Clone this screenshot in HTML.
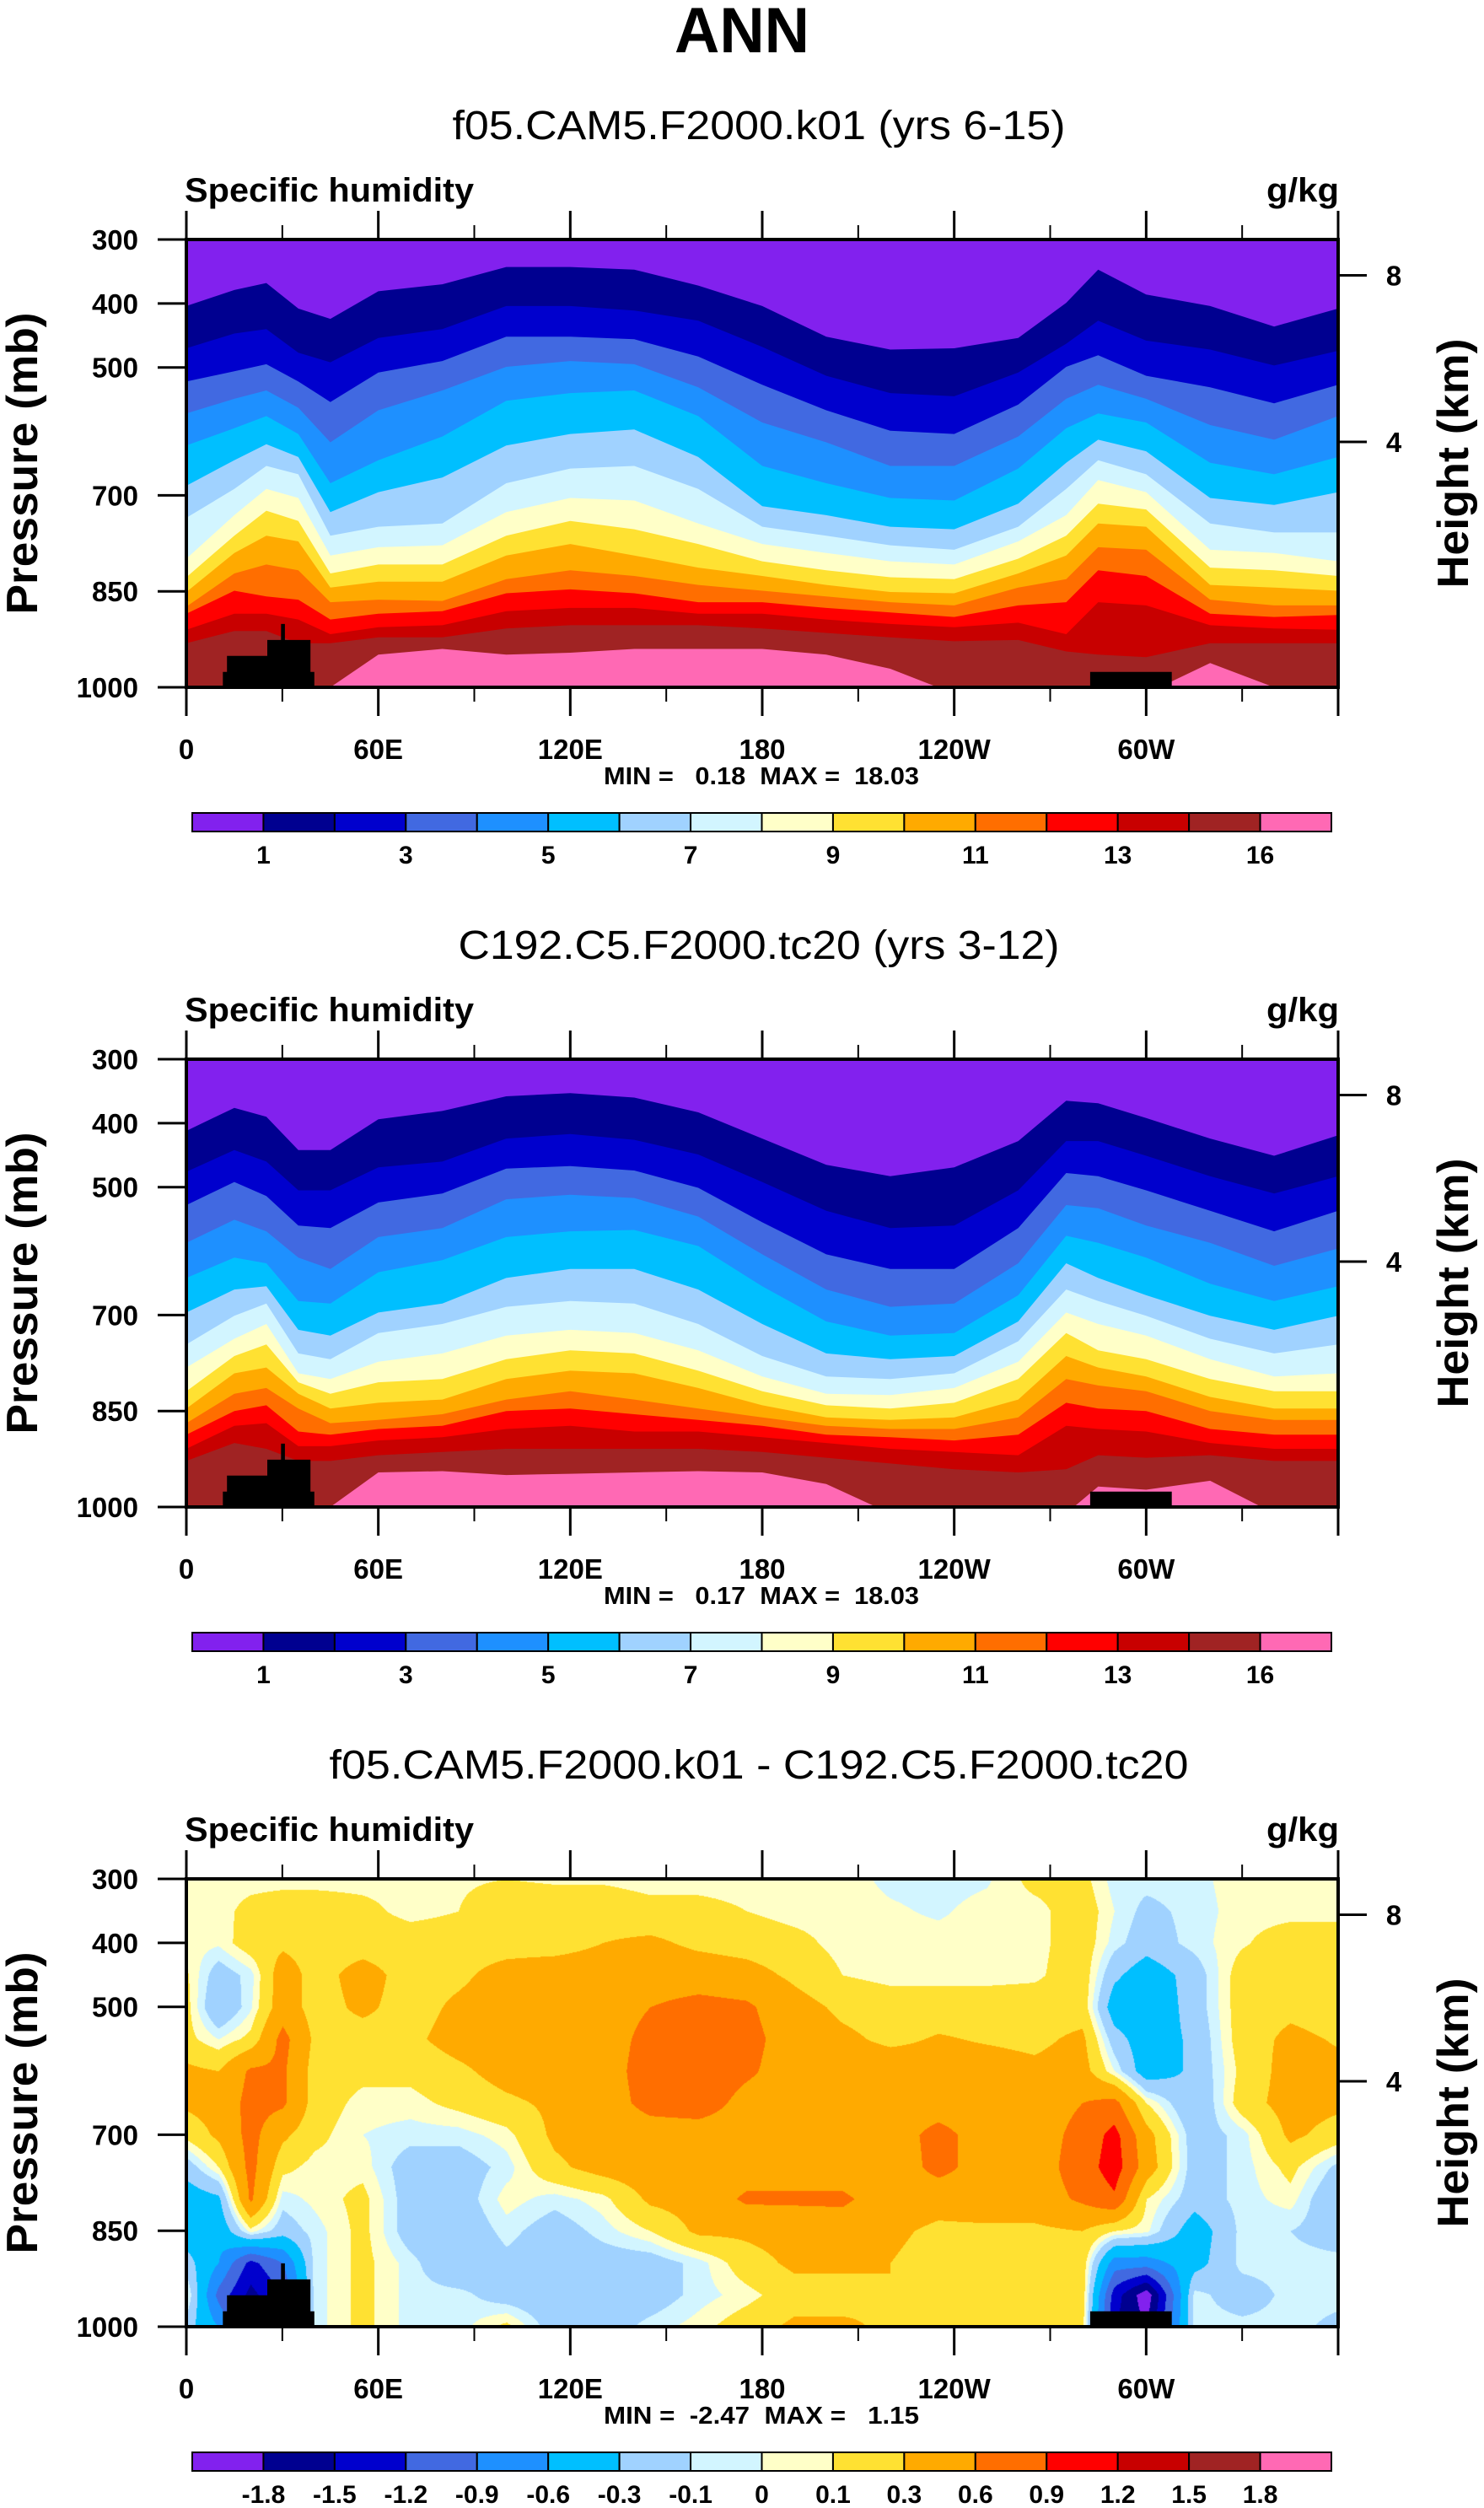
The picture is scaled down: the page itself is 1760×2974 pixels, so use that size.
<!DOCTYPE html>
<html><head><meta charset="utf-8">
<style>
html,body{margin:0;padding:0;background:#fff;}
body{width:1760px;height:2974px;position:relative;overflow:hidden;font-family:"Liberation Sans",Arial,sans-serif;}
#c3{position:absolute;left:221px;top:2228px;}
#main{position:absolute;left:0;top:0;}
text{white-space:pre;}
</style></head>
<body>
<canvas id="c3" width="1366" height="531"></canvas>
<svg id="main" width="1760" height="2974" xmlns="http://www.w3.org/2000/svg"></svg>
<script>
// ---------- data ----------
const lonNodes = [0,15,25,35,45,60,80,100,120,140,160,180,200,220,240,260,275,285,300,320,340,360];
const p1b1  = [404,379,368,408,424,381,370,343,343,347,372,404,452,472,470,454,399,347,386,404,436,408];
const p1b2  = [470,447,440,477,492,454,440,404,404,411,427,468,513,540,545,508,463,427,458,472,497,474];
const p1b3  = [522,506,495,522,554,508,490,452,452,456,483,527,567,599,604,558,499,481,513,531,556,527];
const p1b4  = [572,549,536,563,617,567,536,499,490,495,531,586,617,654,654,608,549,527,549,590,613,576];
const p1b5  = [622,595,576,604,681,645,608,552,540,536,576,654,681,704,708,658,595,572,586,649,667,640];
const p1b6  = [685,645,620,640,726,695,672,622,604,597,640,717,731,749,753,713,649,613,631,704,715,695];
const p1b7  = [735,690,654,667,763,749,744,681,658,654,690,749,763,778,785,749,690,645,667,744,758,758];
const p1b8  = [799,731,690,704,794,781,778,726,704,708,744,776,790,803,808,772,731,676,695,785,790,803];
const p1b9  = [828,763,724,740,822,808,808,763,740,753,776,803,817,828,831,799,763,713,722,813,817,826];
const p1b10 = [851,790,763,772,844,835,835,794,776,794,813,826,840,851,853,822,794,744,749,840,844,849];
const p1b11 = [874,822,808,817,867,863,865,831,817,826,840,849,858,867,872,844,831,781,785,863,872,872];
const p1b12 = [885,849,858,863,894,885,881,853,847,853,867,867,876,883,890,872,867,817,826,885,890,887];
const p1b13 = [910,885,885,894,917,906,903,881,876,876,885,885,894,901,906,899,917,867,872,903,908,910];
const p1b14 = [931,912,912,931,931,922,922,908,903,903,903,908,915,922,928,926,944,949,953,931,931,931];
const p1b15 = [1010,1010,1010,1010,1000,949,940,949,946,940,940,940,949,971,1010,1010,1010,1010,1010,962,1000,1010];
const p2b1  = [412,376,390,442,442,394,381,358,353,360,383,424,465,483,469,428,365,369,392,424,451,419];
const p2b2  = [476,442,460,505,505,469,460,424,417,426,449,492,537,564,560,505,428,428,451,483,510,483];
const p2b3  = [528,492,514,560,564,524,510,471,467,474,501,555,605,628,628,564,478,483,505,537,569,537];
const p2b4  = [587,551,569,610,628,578,564,519,512,517,546,605,660,687,682,619,528,533,560,587,623,596];
const p2b5  = [642,610,619,678,682,633,614,578,569,567,592,655,710,732,728,669,576,587,610,651,678,655];
const p2b6  = [696,660,655,723,732,696,682,642,628,628,660,714,760,769,764,710,619,642,669,701,723,701];
const p2b7  = [746,701,682,760,769,728,714,687,678,682,714,764,796,800,791,741,660,678,701,737,760,746];
const p2b8  = [782,737,714,791,800,773,760,732,723,728,755,796,823,825,814,773,696,714,732,769,796,791];
const p2b9  = [819,764,746,805,823,805,800,769,755,760,787,819,841,846,837,800,728,755,769,800,819,819];
const p2b10 = [846,791,782,823,846,837,832,800,787,791,814,841,860,864,860,832,764,782,796,828,846,846];
const p2b11 = [869,823,814,846,869,864,855,832,819,832,846,860,873,878,878,860,800,810,819,850,864,864];
const p2b12 = [887,850,841,882,887,878,873,850,846,855,864,873,887,891,896,887,837,846,850,878,887,887];
const p2b13 = [909,873,869,905,905,896,891,878,873,882,882,891,900,909,914,919,873,878,882,900,909,909];
const p2b14 = [928,900,909,928,928,919,914,909,909,909,909,914,923,932,941,946,941,919,923,919,928,928];
const p2b15 = [1010,1010,1010,1010,1000,946,944,950,948,946,944,946,964,1010,1010,1010,1010,968,973,959,1010,1010];
const topoLeft  = [[11.4,1000],[11.4,976],[12.7,976],[12.7,951],[25.3,951],[25.3,926],[29.6,926],[29.6,901],[30.8,901],[30.8,926],[38.8,926],[38.8,976],[40,976],[40,1000]];
const topoRight = [[282.5,1000],[282.5,976],[308,976],[308,1000]];
const gridLon = [0,10,20,30,40,55,70,85,100,115,130,145,160,175,190,205,220,235,250,265,280,290,300,315,330,345,360];
const gridP = [300,350,400,450,500,550,600,650,700,750,800,850,900,950,1000];
const d300 = [.05,.05,.05,.05,.05,.05,.05,.08,.1,.08,.08,.05,.05,.05,.05,.05,-.03,-.05,-.02,.15,.15,-.05,-.05,-.03,.05,.05,.05];
const d350 = [.05,.05,.15,.2,.2,.15,.05,.1,.2,.2,.2,.15,.15,.1,.05,.05,.02,-.02,.05,.05,.2,0,-.15,-.05,.05,.05,.05];
const d400 = [.05,.02,.2,.25,.2,.2,.2,.2,.2,.2,.3,.35,.25,.2,.15,.05,.05,.05,.05,.05,.2,-.05,-.2,-.05,.08,.2,.2];
const d450 = [.12,-.2,-.05,.45,.2,.4,.2,.25,.4,.45,.45,.45,.45,.4,.25,.1,.05,.05,.05,.07,.2,-.25,-.45,-.2,.2,.2,.2];
const d500 = [.15,-.3,-.02,.45,.2,.35,.2,.35,.45,.45,.45,.6,.7,.65,.4,.25,.2,.2,.2,.2,.2,-.45,-.5,-.2,.2,.25,.2];
const d550 = [.15,0,.15,.7,.25,.2,.25,.4,.45,.45,.45,.7,.75,.7,.45,.35,.25,.32,.28,.25,.35,-.2,-.45,-.25,.2,.35,.28];
const d600 = [.35,.3,.65,.65,.2,.15,.15,.25,.4,.45,.45,.75,.8,.65,.45,.45,.45,.4,.4,.35,.4,0,-.45,-.25,.15,.4,.35];
const d650 = [.35,.4,.7,.65,.2,.05,.05,.15,.25,.35,.45,.7,.75,.5,.45,.45,.45,.45,.45,.45,.6,.7,.1,-.3,.2,.4,.35];
const d700 = [.15,.35,.7,.35,.15,0,-.05,-.05,.05,.35,.4,.45,.45,.45,.45,.45,.45,.7,.45,.45,.7,1.0,.4,-.2,-.05,.35,.2];
const d750 = [-.2,.1,.7,.15,.05,.05,-.2,-.2,-.05,.25,.4,.45,.45,.45,.45,.45,.4,.7,.45,.45,.75,1.05,.45,-.2,-.05,.15,-.15];
const d800 = [-.45,-.35,.65,-.05,.03,.15,-.2,-.2,.05,-.05,.05,.35,.4,.65,.65,.65,.45,.4,.45,.45,.65,.85,.1,-.2,-.05,.05,-.3];
const d850 = [-.45,-.5,.05,-.2,-.05,.15,-.2,-.25,-.05,-.2,-.05,.1,.35,.35,.4,.45,.35,.25,.25,.25,.3,.1,.03,-.45,-.05,-.1,-.2];
const d900 = [-.2,-.6,-1.3,-.9,-.05,.15,-.05,-.3,-.15,-.25,-.2,-.2,-.05,.2,.35,.35,.3,.2,.2,.2,.2,-.75,-.75,-.4,-.05,-.05,-.05];
const d950 = [.05,-1.0,-1.6,-1.2,-.05,.15,-.05,-.05,-.2,-.25,-.2,-.2,-.05,.05,.2,.2,.3,.2,.2,.2,.2,-1.35,-2.0,-.05,-.2,-.05,-.05];
const d1000= [-.2,-.6,-1.5,-1.2,-.05,.15,-.05,-.05,.15,-.2,-.2,-.05,.05,.2,.35,.35,.25,.2,.2,.2,.15,-1.5,-1.8,-.05,-.05,-.05,-.15];
const levelsQ = [1,2,3,4,5,6,7,8,9,10,11,12,13,14,16];
const levelsD = [-1.8,-1.5,-1.2,-0.9,-0.6,-0.3,-0.1,0,0.1,0.3,0.6,0.9,1.2,1.5,1.8];
const lonTicks = [0,60,120,180,240,300];
const lonTickLabels = ["0","60E","120E","180","120W","60W"];
const lonMinor = [30,90,150,210,270,330];
const pTicks = [300,400,500,700,850,1000];
const hTicks = [8,4];
const colors = ["#8221EE","#000090","#0000CD","#4169E1","#1E90FF","#00BFFF","#A0D2FF","#D2F5FF","#FFFFC8","#FFE132","#FFAA00","#FF6E00","#FF0000","#C80000","#A02323","#FF69B4"];
const titles = ["f05.CAM5.F2000.k01 (yrs 6-15)","C192.C5.F2000.tc20 (yrs 3-12)","f05.CAM5.F2000.k01 - C192.C5.F2000.tc20"];
const titleW = [727,713,1019];
const minmax = ["MIN =   0.18  MAX =  18.03","MIN =   0.17  MAX =  18.03","MIN =  -2.47  MAX =   1.15"];

// ---------- axes ----------
const PL=221, PW=1366, PH=531;
const tops=[284,1256,2228];
const X = lon => PL + lon/360*PW;
const Y = (p,top) => top + (p-300)/700*PH;
const hToP = h => 1013.25*Math.pow(1-2.25577e-5*h*1000,5.25588);
const NS="http://www.w3.org/2000/svg";
const svg=document.getElementById('main');
function mk(tag,attrs,parent){const e=document.createElementNS(NS,tag);for(const k in attrs)e.setAttribute(k,attrs[k]);(parent||svg).appendChild(e);return e;}
function txt(s,x,y,size,weight,anchor,parent,len){const e=mk('text',{x:x,y:y,'font-size':size,'font-weight':weight,'text-anchor':anchor,'font-family':'"Liberation Sans",Arial,sans-serif',fill:'#000'},parent);e.setAttributeNS('http://www.w3.org/XML/1998/namespace','xml:space','preserve');if(len){e.setAttribute('textLength',len);e.setAttribute('lengthAdjust','spacingAndGlyphs');}e.textContent=s;return e;}

const t0=txt("ANN",880,62,76,'bold','middle',null,160);



const defs=mk('defs',{});
tops.forEach((top,i)=>{
  const cp=mk('clipPath',{id:'clip'+i},defs);
  mk('rect',{x:PL,y:top,width:PW,height:PH},cp);
});

const bounds1=[p1b1,p1b2,p1b3,p1b4,p1b5,p1b6,p1b7,p1b8,p1b9,p1b10,p1b11,p1b12,p1b13,p1b14,p1b15];
const bounds2=[p2b1,p2b2,p2b3,p2b4,p2b5,p2b6,p2b7,p2b8,p2b9,p2b10,p2b11,p2b12,p2b13,p2b14,p2b15];

function drawBands(bounds,top,i){
  const g=mk('g',{'clip-path':'url(#clip'+i+')'});
  
  
  const r=mk('rect',{x:PL,y:top,width:PW,height:PH,fill:colors[0]},g);
  
  
  bounds.forEach((b,k)=>{
    let pts=b.map((p,j)=>X(lonNodes[j]).toFixed(1)+','+Y(p,top).toFixed(1));
    pts.push(X(360)+','+(top+PH+10));pts.push(X(0)+','+(top+PH+10));
    const pg=mk('polygon',{points:pts.join(' '),fill:colors[k+1]},g);
    
    
  });
}
function drawTopo(top,i){
  [topoLeft,topoRight].forEach((t,k)=>{
    const pg=mk('polygon',{points:t.map(q=>X(q[0]).toFixed(1)+','+Y(q[1],top).toFixed(1)).join(' '),fill:'#000'});
    
    
  });
}
drawBands(bounds1,tops[0],0);
drawBands(bounds2,tops[1],1);

const gridRows=[d300,d350,d400,d450,d500,d550,d600,d650,d700,d750,d800,d850,d900,d950,d1000];
(function(){
  const cv=document.getElementById('c3');const ctx=cv.getContext('2d');
  const img=ctx.createImageData(PW,PH);
  const rgb=colors.map(c=>[parseInt(c.slice(1,3),16),parseInt(c.slice(3,5),16),parseInt(c.slice(5,7),16)]);
  function idx(arr,v){let i=0;while(i<arr.length-2&&v>arr[i+1])i++;return i;}
  for(let py=0;py<PH;py++){
    const p=300+py/PH*700;const r=idx(gridP,p);const fy=(p-gridP[r])/(gridP[r+1]-gridP[r]);
    for(let px=0;px<PW;px++){
      const lon=px/PW*360;const c=idx(gridLon,lon);const fx=(lon-gridLon[c])/(gridLon[c+1]-gridLon[c]);
      const v=(gridRows[r][c]*(1-fx)+gridRows[r][c+1]*fx)*(1-fy)+(gridRows[r+1][c]*(1-fx)+gridRows[r+1][c+1]*fx)*fy;
      let k=0;while(k<levelsD.length&&v>=levelsD[k])k++;
      const o=(py*PW+px)*4;const col=rgb[k];img.data[o]=col[0];img.data[o+1]=col[1];img.data[o+2]=col[2];img.data[o+3]=255;
    }
  }
  ctx.putImageData(img,0,0);
})();

tops.forEach((top,i)=>{
  drawTopo(top,i);
  const st=txt(titles[i],900,top-119,48,'normal','middle',null,titleW[i]);
  
  
  const lt=txt("Specific humidity",219,top-45,40,'bold','start',null,343);
  
  
  const ut=txt("g/kg",1588,top-45,40,'bold','end',null,86);
  
  
  const fr=mk('rect',{x:PL,y:top,width:PW,height:PH,fill:'none',stroke:'#000','stroke-width':4});
  
  
  lonTicks.concat([360]).forEach((l,j)=>{
    mk('line',{x1:X(l),x2:X(l),y1:top,y2:top-34,stroke:'#000','stroke-width':3});
    mk('line',{x1:X(l),x2:X(l),y1:top+PH,y2:top+PH+34,stroke:'#000','stroke-width':3});
  });
  lonMinor.forEach(l=>{
    mk('line',{x1:X(l),x2:X(l),y1:top,y2:top-17,stroke:'#000','stroke-width':2});
    mk('line',{x1:X(l),x2:X(l),y1:top+PH,y2:top+PH+17,stroke:'#000','stroke-width':2});
  });
  lonTicks.forEach((l,j)=>{
    const e=txt(lonTickLabels[j],X(l),top+616,33,'bold','middle');
    
    
  });
  pTicks.forEach(p=>{
    mk('line',{x1:PL-34,x2:PL,y1:Y(p,top),y2:Y(p,top),stroke:'#000','stroke-width':3});
    const e=txt(String(p),164,Y(p,top)+12,33,'bold','end');
    
    
  });
  hTicks.forEach(h=>{
    const y=Y(hToP(h),top);
    mk('line',{x1:PL+PW,x2:PL+PW+34,y1:y,y2:y,stroke:'#000','stroke-width':3});
    const e=txt(String(h),1653,y+12,33,'bold','middle');
    
    
  });
  const yl=txt("Pressure (mb)",0,0,52,'bold','middle',null,358);
  yl.setAttribute('transform','translate(44,'+(top+PH/2)+') rotate(-90)');
  
  
  const hl=txt("Height (km)",0,0,52,'bold','middle',null,296);
  hl.setAttribute('transform','translate(1741,'+(top+PH/2)+') rotate(-90)');
  
  
  const mm=txt(minmax[i],903,top+646,29,'bold','middle',null,374);
  
  
  const cb=mk('g',{});
  
  
  const cx0=228,cw=1351,cy=top+680,ch=22,bw=cw/16;
  colors.forEach((c,k)=>{
    const r=mk('rect',{x:cx0+k*bw,y:cy,width:bw,height:ch,fill:c,stroke:'#000','stroke-width':2},cb);
    
    
  });
  const lv=i<2?levelsQ:levelsD;
  lv.forEach((v,k)=>{
    if(i<2 && k%2===1) return;
    const e=txt(String(v),cx0+(k+1)*bw,top+740,30,'bold','middle',cb);
    
    
  });
});
</script>
</body></html>
